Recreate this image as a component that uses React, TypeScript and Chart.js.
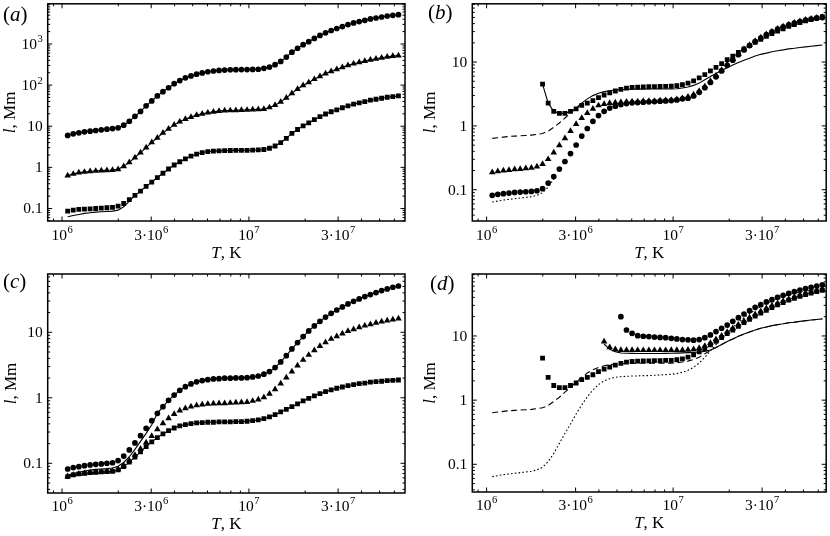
import { useEffect, useRef } from "react";
import { Chart, registerables } from "chart.js";

Chart.register(...registerables);

const SERIF = "'Liberation Serif', 'Times New Roman', serif";

// temperature grid, units of 10^6 K
const T_MK = [
  1.072, 1.148, 1.23, 1.318, 1.413, 1.514, 1.622, 1.738, 1.862, 1.995,
  2.138, 2.291, 2.455, 2.63, 2.818, 3.02, 3.236, 3.467, 3.715, 3.981,
  4.266, 4.571, 4.898, 5.248, 5.623, 6.026, 6.457, 6.918, 7.413, 7.943,
  8.511, 9.12, 9.772, 10.47, 11.22, 12.02, 12.88, 13.8, 14.79, 15.85,
  16.98, 18.2, 19.5, 20.89, 22.39, 23.99, 25.7, 27.54, 29.51, 31.62,
  33.88, 36.31, 38.9, 41.69, 44.67, 47.86, 51.29, 54.95, 58.88, 63.1,
];

// panel (a)
const A_CIRCLES = [
  5.97, 6.55, 6.92, 7.31, 7.59, 7.87, 8.17, 8.47, 8.79, 9.12,
  10.6, 13.2, 17.4, 22.9, 31.3, 41.3, 54.5, 69.2, 86.3, 108,
  129, 150, 167, 184, 198, 211, 220, 227, 232, 236,
  237, 238, 239, 240, 243, 256, 275, 313, 377, 479,
  631, 787, 964, 1138, 1368, 1614, 1871, 2128, 2377, 2655,
  2965, 3251, 3499, 3767, 4055, 4285, 4529, 4786, 4966, 5152,
];
const A_TRIANGLES = [
  0.631, 0.692, 0.745, 0.773, 0.802, 0.817, 0.832, 0.847, 0.863, 0.895,
  1.057, 1.318, 1.738, 2.29, 3.02, 4.06, 5.25, 6.92, 8.63, 10.8,
  12.9, 15.0, 16.7, 18.7, 20.1, 21.3, 22.5, 23.3, 23.9, 24.2,
  24.4, 24.6, 24.9, 25.3, 25.8, 26.1, 28.6, 32.5, 39.1, 48.8,
  63.1, 80.2, 98.2, 116, 139, 164, 191, 217, 242, 270,
  302, 331, 356, 384, 413, 437, 461, 488, 506, 525,
];
const A_SQUARES = [
  0.0863, 0.0912, 0.0946, 0.0964, 0.0982, 0.1, 0.102, 0.104, 0.106, 0.114,
  0.132, 0.164, 0.209, 0.265, 0.344, 0.437, 0.565, 0.718, 0.912, 1.14,
  1.37, 1.61, 1.87, 2.09, 2.29, 2.42, 2.48, 2.52, 2.55, 2.57,
  2.58, 2.59, 2.6, 2.62, 2.66, 2.72, 2.91, 3.31, 3.98, 5.06,
  6.67, 8.32, 10.2, 12.0, 14.5, 17.1, 19.8, 22.5, 25.1, 28.1,
  31.3, 34.4, 37.0, 39.8, 42.9, 45.3, 47.9, 50.6, 52.5, 54.5,
];
// solid line under the squares where it departs from them (low T)
const A_LINE_LOW = [
  0.063, 0.0676, 0.0716, 0.0759, 0.0787, 0.0817, 0.0832, 0.0847, 0.0863, 0.0912,
  0.11, 0.15, 0.209,
];

// panels (b) and (d): shared model curves
const LINE_DASH = [
  0.637, 0.652, 0.668, 0.684, 0.692, 0.7, 0.709, 0.718, 0.735, 0.761,
  0.827, 0.953, 1.11, 1.33, 1.59, 1.9, 2.27, 2.65, 2.98, 3.24,
  3.44, 3.56, 3.65, 3.69, 3.73, 3.74, 3.76, 3.77, 3.78, 3.78,
  3.78, 3.78, 3.78, 3.82, 3.92, 4.06, 4.31, 4.68, 5.27, 5.93,
  6.6, 7.35, 8.17, 8.99, 9.88, 10.7, 11.5, 12.4, 13.2, 13.8,
  14.5, 15.0, 15.5, 16.1, 16.4, 16.9, 17.3, 17.7, 18.1, 18.5,
];
const LINE_DOT = [
  0.0642, 0.0665, 0.069, 0.0707, 0.0724, 0.0741, 0.076, 0.0778, 0.0817, 0.0898,
  0.11, 0.148, 0.212, 0.304, 0.425, 0.608, 0.841, 1.13, 1.44, 1.75,
  1.99, 2.16, 2.27, 2.32, 2.35, 2.38, 2.38, 2.41, 2.41, 2.44,
  2.47, 2.5, 2.53, 2.59, 2.72, 2.92, 3.25, 3.79, 4.66, 5.83,
  7.33, 9.2, 11.3, 13.6, 16.3, 19.3, 22.3, 25.4, 28.6, 31.9,
  35.1, 38.2, 41.0, 43.5, 46.2, 48.5, 50.2, 52.1, 53.3, 54.7,
];
// squares in (b) and (d), from T = 2·10^6 K (k = 10)
const SQ_BD = [
  4.52, 2.27, 1.69, 1.57, 1.57, 1.69, 1.85, 2.09, 2.27, 2.49,
  2.78, 3.05, 3.28, 3.52, 3.73, 3.9, 4.0, 4.05, 4.08, 4.1,
  4.12, 4.14, 4.16, 4.18, 4.26, 4.41, 4.68, 5.08, 5.66, 6.37,
  7.26, 8.27, 9.43, 10.9, 12.4, 14.1, 16.1, 18.1, 20.4, 22.7,
  25.2, 27.8, 30.5, 33.2, 36.1, 38.7, 41.6, 44.1, 46.8, 49.1, 51.4,
];
const SQ_BD_START = 10;

// panel (b)
const B_CIRCLES = [
  0.0817, 0.0847, 0.0867, 0.0888, 0.0909, 0.092, 0.0931, 0.0942, 0.0965, 0.104,
  0.127, 0.161, 0.211, 0.277, 0.369, 0.502, 0.692, 0.91, 1.18, 1.45,
  1.69, 1.9, 2.04, 2.16, 2.24, 2.3, 2.32, 2.35, 2.38, 2.4,
  2.44, 2.46, 2.49, 2.55, 2.65, 2.71, 2.94, 3.36, 3.96, 4.79,
  5.86, 7.26, 8.87, 10.7, 13.0, 15.5, 18.1, 20.9, 23.8, 26.8,
  29.8, 32.7, 35.6, 38.2, 40.6, 43.1, 45.2, 46.8, 48.5, 49.7,
];
const B_TRIANGLES = [
  0.188, 0.195, 0.199, 0.204, 0.209, 0.211, 0.216, 0.221, 0.23, 0.252,
  0.301, 0.382, 0.496, 0.637, 0.827, 1.07, 1.33, 1.59, 1.85, 2.09,
  2.19, 2.27, 2.32, 2.35, 2.38, 2.4, 2.4, 2.44, 2.44, 2.46,
  2.49, 2.52, 2.55, 2.61, 2.71, 2.85, 3.09, 3.52, 4.15, 5.02,
  6.14, 7.52, 9.21, 11.1, 13.3, 15.9, 18.5, 21.4, 24.1, 27.1,
  30.1, 33.2, 36.1, 38.7, 41.1, 43.6, 45.7, 47.4, 49.1, 50.2,
];

// panel (c)
const C_CIRCLES = [
  0.0819, 0.0859, 0.0889, 0.0921, 0.0944, 0.0966, 0.0977, 0.1, 0.102, 0.11,
  0.129, 0.16, 0.205, 0.264, 0.342, 0.448, 0.579, 0.733, 0.916, 1.1,
  1.3, 1.48, 1.63, 1.75, 1.83, 1.89, 1.94, 1.96, 1.99, 1.99,
  2.01, 2.01, 2.03, 2.08, 2.15, 2.29, 2.51, 2.89, 3.53, 4.4,
  5.57, 6.96, 8.59, 10.5, 12.5, 14.7, 17.1, 19.5, 21.9, 24.4,
  27.1, 29.7, 32.3, 35.1, 37.6, 40.4, 43.3, 45.9, 48.7, 50.9,
];
const C_LINE_LOW = [
  0.0664, 0.0695, 0.0728, 0.0763, 0.0791, 0.0809, 0.0819, 0.0828, 0.0848, 0.0899,
  0.103, 0.126, 0.163, 0.216, 0.286, 0.387,
];
const C_TRIANGLES = [
  0.0633, 0.0664, 0.0688, 0.0704, 0.072, 0.0729, 0.0738, 0.0747, 0.0764, 0.081,
  0.0921, 0.11, 0.134, 0.166, 0.207, 0.261, 0.33, 0.408, 0.486, 0.566,
  0.637, 0.692, 0.733, 0.768, 0.787, 0.805, 0.815, 0.824, 0.824, 0.834,
  0.844, 0.853, 0.863, 0.895, 0.938, 1.02, 1.15, 1.35, 1.65, 2.03,
  2.51, 3.1, 3.78, 4.51, 5.31, 6.18, 7.03, 7.91, 8.69, 9.55,
  10.4, 11.1, 11.9, 12.6, 13.2, 13.9, 14.6, 15.1, 15.6, 16.2,
];
const C_SQUARES = [
  0.0626, 0.0664, 0.0688, 0.0704, 0.072, 0.0729, 0.0738, 0.0747, 0.0755, 0.0791,
  0.0889, 0.104, 0.124, 0.149, 0.18, 0.212, 0.247, 0.281, 0.315, 0.346,
  0.372, 0.389, 0.403, 0.413, 0.418, 0.423, 0.423, 0.428, 0.428, 0.428,
  0.433, 0.433, 0.438, 0.448, 0.459, 0.481, 0.51, 0.553, 0.608, 0.667,
  0.733, 0.805, 0.895, 0.982, 1.07, 1.16, 1.24, 1.32, 1.4, 1.46,
  1.53, 1.59, 1.65, 1.68, 1.73, 1.77, 1.79, 1.83, 1.85, 1.87,
];

// panel (d)
const D_CIRCLES = [
  20.0, 12.4, 11.0, 10.1, 9.9, 9.8, 9.6, 9.5, 9.4, 9.2,
  9.0, 8.8, 8.7, 8.6, 8.8, 9.4, 10.4, 11.7, 13.2, 14.8,
  16.9, 19.3, 22.0, 24.8, 28.0, 30.8, 33.9, 36.8, 40.0, 43.0,
  46.2, 49.0, 52.0, 54.6, 57.3, 60.0, 62.4,
];
const D_CIRCLES_START = 24;
const D_TRIANGLES = [
  8.16, 6.66, 6.2, 6.05, 6.03, 6.02, 6.0, 6.0, 6.0, 6.0,
  6.0, 6.0, 6.02, 6.03, 6.05, 6.1, 6.2, 6.5, 6.99, 7.78,
  8.87, 10.1, 11.5, 13.2, 15.0, 17.1, 19.3, 21.8, 24.2, 27.0,
  29.7, 32.3, 35.1, 37.7, 40.5, 43.0, 45.7, 48.5, 50.8, 53.3,
];
const D_TRIANGLES_START = 21;
const D_SOLID = [
  7.5, 6.2, 5.7, 5.43, 5.37, 5.35, 5.33, 5.33, 5.33, 5.33,
  5.33, 5.35, 5.37, 5.4, 5.45, 5.5, 5.55, 5.62, 5.75, 6.05,
];

const X_TICKS = [1, 3, 10, 30];
const X_TICK_TEXT = [["10", "6"], ["3·10", "6"], ["10", "7"], ["3·10", "7"]];
const Y_TICKS_A = [0.1, 1, 10, 100, 1000];
const Y_TICK_TEXT_A = [["0.1", ""], ["1", ""], ["10", ""], ["10", "2"], ["10", "3"]];
const Y_TICKS = [0.1, 1, 10];
const Y_TICK_TEXT = [["0.1", ""], ["1", ""], ["10", ""]];

function pts(vals: (number | null)[], startK = 1) {
  return vals.map((v, i) => ({ x: T_MK[startK - 1 + i], y: v }));
}

const marker = (style: string, r: number) => ({
  showLine: false,
  pointStyle: style,
  pointRadius: r,
  pointHoverRadius: r,
  pointBackgroundColor: "#000",
  pointBorderColor: "#000",
  pointBorderWidth: 0,
  borderColor: "#000",
});

const curve = (dash: number[]) => ({
  showLine: true,
  pointRadius: 0,
  pointHoverRadius: 0,
  borderColor: "#000",
  borderWidth: 1.1,
  borderDash: dash,
  fill: false,
  tension: 0,
  spanGaps: false,
});

const R_CIRCLE = 2.85;
const R_TRIANGLE = 3.8;
const R_SQUARE = 3.4;
const CIRCLE = () => marker("circle", R_CIRCLE);
const TRIANGLE = () => marker("triangle", R_TRIANGLE);
const SQUARE = () => marker("rect", R_SQUARE);
const SOLID: number[] = [];
const DASHED = [6, 3.5];
const DOTTED = [1.6, 2.2];

const PANELS = [
  {
    key: "a", left: 0, top: 0, w: 415, h: 268,
    pad: { left: 47.7, right: 10, top: 1, bottom: 47 },
    xMin: 0.838, xMax: 68.4, yMin: 0.0496, yMax: 9480,
    yTicks: Y_TICKS_A, yText: Y_TICK_TEXT_A,
    letterX: 3, letterY: 21, yTitleX: 14.5, xLabelDy: 19, xTitleDy: 37,
    datasets: [
      { ...CIRCLE(), ...curve(SOLID), pointRadius: R_CIRCLE, data: pts(A_CIRCLES) },
      { ...TRIANGLE(), ...curve(SOLID), pointRadius: R_TRIANGLE, data: pts(A_TRIANGLES) },
      { ...SQUARE(), data: pts(A_SQUARES) },
      { ...curve(SOLID), data: pts([...A_LINE_LOW, ...A_SQUARES.slice(A_LINE_LOW.length)]) },
    ],
  },
  {
    key: "b", left: 415, top: 0, w: 415, h: 268,
    pad: { left: 57.3, right: 3, top: 1, bottom: 47 },
    xMin: 0.838, xMax: 66.2, yMin: 0.0324, yMax: 81.7,
    yTicks: Y_TICKS, yText: Y_TICK_TEXT,
    letterX: 13, letterY: 19, yTitleX: 19.5, xLabelDy: 19, xTitleDy: 37,
    datasets: [
      { ...SQUARE(), data: pts(SQ_BD, SQ_BD_START) },
      { ...CIRCLE(), data: pts(B_CIRCLES) },
      { ...TRIANGLE(), data: pts(B_TRIANGLES) },
      {
        ...curve(SOLID),
        data: pts([...SQ_BD.slice(0, 7), ...LINE_DASH.slice(SQ_BD_START + 6)], SQ_BD_START),
      },
      { ...curve(DASHED), data: pts(LINE_DASH.slice(0, 17)) },
      { ...curve(DOTTED), data: pts(LINE_DOT.slice(0, 12)) },
    ],
  },
  {
    key: "c", left: 0, top: 268, w: 415, h: 268,
    pad: { left: 47.7, right: 10, top: 6, bottom: 43 },
    xMin: 0.838, xMax: 68.4, yMin: 0.0352, yMax: 77.6,
    yTicks: Y_TICKS, yText: Y_TICK_TEXT,
    letterX: 3, letterY: 20, yTitleX: 16, xLabelDy: 18, xTitleDy: 36,
    datasets: [
      { ...CIRCLE(), data: pts(C_CIRCLES) },
      { ...curve(SOLID), data: pts([...C_LINE_LOW, ...C_CIRCLES.slice(C_LINE_LOW.length)]) },
      { ...TRIANGLE(), data: pts(C_TRIANGLES) },
      { ...SQUARE(), ...curve(SOLID), pointRadius: R_SQUARE, data: pts(C_SQUARES) },
    ],
  },
  {
    key: "d", left: 415, top: 268, w: 415, h: 268,
    pad: { left: 57.3, right: 3, top: 6, bottom: 44 },
    xMin: 0.838, xMax: 66.2, yMin: 0.037, yMax: 92.5,
    yTicks: Y_TICKS, yText: Y_TICK_TEXT,
    letterX: 15, letterY: 22, yTitleX: 19.5, xLabelDy: 18, xTitleDy: 36,
    datasets: [
      { ...SQUARE(), data: pts(SQ_BD, SQ_BD_START) },
      { ...TRIANGLE(), data: pts(D_TRIANGLES, D_TRIANGLES_START) },
      { ...CIRCLE(), data: pts(D_CIRCLES, D_CIRCLES_START) },
      {
        ...curve(SOLID),
        data: pts([...D_SOLID, ...LINE_DASH.slice(D_TRIANGLES_START - 1 + D_SOLID.length)], D_TRIANGLES_START),
      },
      { ...curve(DASHED), data: pts(LINE_DASH) },
      { ...curve(DOTTED), data: pts(LINE_DOT) },
    ],
  },
];

type Part = [string, boolean];

function drawParts(ctx: CanvasRenderingContext2D, parts: Part[], x: number, y: number, size: number, align: "left" | "center") {
  const widths = parts.map(([t, it]) => {
    ctx.font = `${it ? "italic " : ""}${size}px ${SERIF}`;
    return ctx.measureText(t).width;
  });
  const total = widths.reduce((s, w) => s + w, 0);
  let cx = align === "center" ? x - total / 2 : x;
  parts.forEach(([t, it], i) => {
    ctx.font = `${it ? "italic " : ""}${size}px ${SERIF}`;
    ctx.fillText(t, cx, y);
    cx += widths[i];
  });
}

function drawSup(ctx: CanvasRenderingContext2D, base: string, sup: string, x: number, y: number, align: "center" | "right", size: number) {
  const supSize = size * 0.68;
  ctx.font = `${size}px ${SERIF}`;
  const wb = ctx.measureText(base).width;
  ctx.font = `${supSize}px ${SERIF}`;
  const ws = sup ? ctx.measureText(sup).width + 0.5 : 0;
  const x0 = align === "center" ? x - (wb + ws) / 2 : x - wb - ws;
  ctx.font = `${size}px ${SERIF}`;
  ctx.fillText(base, x0, y);
  if (sup) {
    ctx.font = `${supSize}px ${SERIF}`;
    ctx.fillText(sup, x0 + wb + 0.5, y - size * 0.42);
  }
}

function makeFrame(p: any) {
  return {
    id: "frame" + p.key,
    afterDraw(chart: any) {
      const { ctx, chartArea: a, scales } = chart;
      const xs = scales.x;
      const ys = scales.y;
      ctx.save();
      ctx.strokeStyle = "#000";
      ctx.fillStyle = "#000";
      ctx.lineWidth = 1;
      const seg = (x1: number, y1: number, x2: number, y2: number) => {
        ctx.beginPath();
        ctx.moveTo(x1, y1);
        ctx.lineTo(x2, y2);
        ctx.stroke();
      };
      // y ticks, inside, both sides
      for (let e = Math.floor(Math.log10(ys.min)); e <= Math.ceil(Math.log10(ys.max)); e++) {
        for (let m = 1; m <= 9; m++) {
          const v = m * Math.pow(10, e);
          if (v < ys.min || v > ys.max) continue;
          const y = ys.getPixelForValue(v);
          const len = m === 1 ? 4.5 : 2.5;
          seg(a.left, y, a.left + len, y);
          seg(a.right, y, a.right - len, y);
        }
      }
      // x ticks
      for (let e = Math.floor(Math.log10(xs.min)); e <= Math.ceil(Math.log10(xs.max)); e++) {
        for (let m = 1; m <= 9; m++) {
          const v = m * Math.pow(10, e);
          if (v < xs.min || v > xs.max) continue;
          const x = xs.getPixelForValue(v);
          const len = X_TICKS.some((t) => Math.abs(t - v) < 1e-9) ? 4.5 : 2.5;
          seg(x, a.bottom, x, a.bottom - len);
          seg(x, a.top, x, a.top + len);
        }
      }
      ctx.lineWidth = 1.5;
      ctx.strokeRect(a.left, a.top, a.right - a.left, a.bottom - a.top);

      ctx.textBaseline = "alphabetic";
      ctx.textAlign = "left";
      X_TICKS.forEach((v, i) => {
        const [b, s] = X_TICK_TEXT[i];
        drawSup(ctx, b, s, xs.getPixelForValue(v), a.bottom + p.xLabelDy, "center", 15.5);
      });
      p.yTicks.forEach((v: number, i: number) => {
        const [b, s] = p.yText[i];
        drawSup(ctx, b, s, a.left - 5, ys.getPixelForValue(v) + 5, "right", 15.5);
      });

      drawParts(ctx, [["T", true], [", K", false]], (a.left + a.right) / 2, a.bottom + p.xTitleDy, 17, "center");

      ctx.save();
      ctx.translate(p.yTitleX, (a.top + a.bottom) / 2);
      ctx.rotate(-Math.PI / 2);
      drawParts(ctx, [["l", true], [", Mm", false]], 0, 0, 17, "center");
      ctx.restore();

      drawParts(ctx, [["(", false], [p.key, true], [")", false]], p.letterX, p.letterY, 21, "left");
      ctx.restore();
    },
  };
}

function Panel({ p }: { p: any }) {
  const canvasRef = useRef<HTMLCanvasElement | null>(null);

  useEffect(() => {
    if (!canvasRef.current) return;
    const chart = new Chart(canvasRef.current, {
      type: "line",
      data: { datasets: p.datasets },
      options: {
        animation: false,
        responsive: true,
        maintainAspectRatio: false,
        events: [],
        layout: { padding: p.pad },
        plugins: { legend: { display: false }, tooltip: { enabled: false } },
        scales: {
          x: { type: "logarithmic", display: false, bounds: "data", min: p.xMin, max: p.xMax },
          y: { type: "logarithmic", display: false, bounds: "data", min: p.yMin, max: p.yMax },
        },
      },
      plugins: [makeFrame(p)],
    } as any);
    return () => chart.destroy();
  }, [p]);

  return (
    <div style={{ position: "absolute", left: p.left, top: p.top, width: p.w, height: p.h }}>
      <canvas ref={canvasRef} />
    </div>
  );
}

export default function App() {
  return (
    <div style={{ position: "absolute", left: 0, top: 0, width: 830, height: 536, background: "#fff" }}>
      {PANELS.map((p) => (
        <Panel key={p.key} p={p} />
      ))}
    </div>
  );
}
